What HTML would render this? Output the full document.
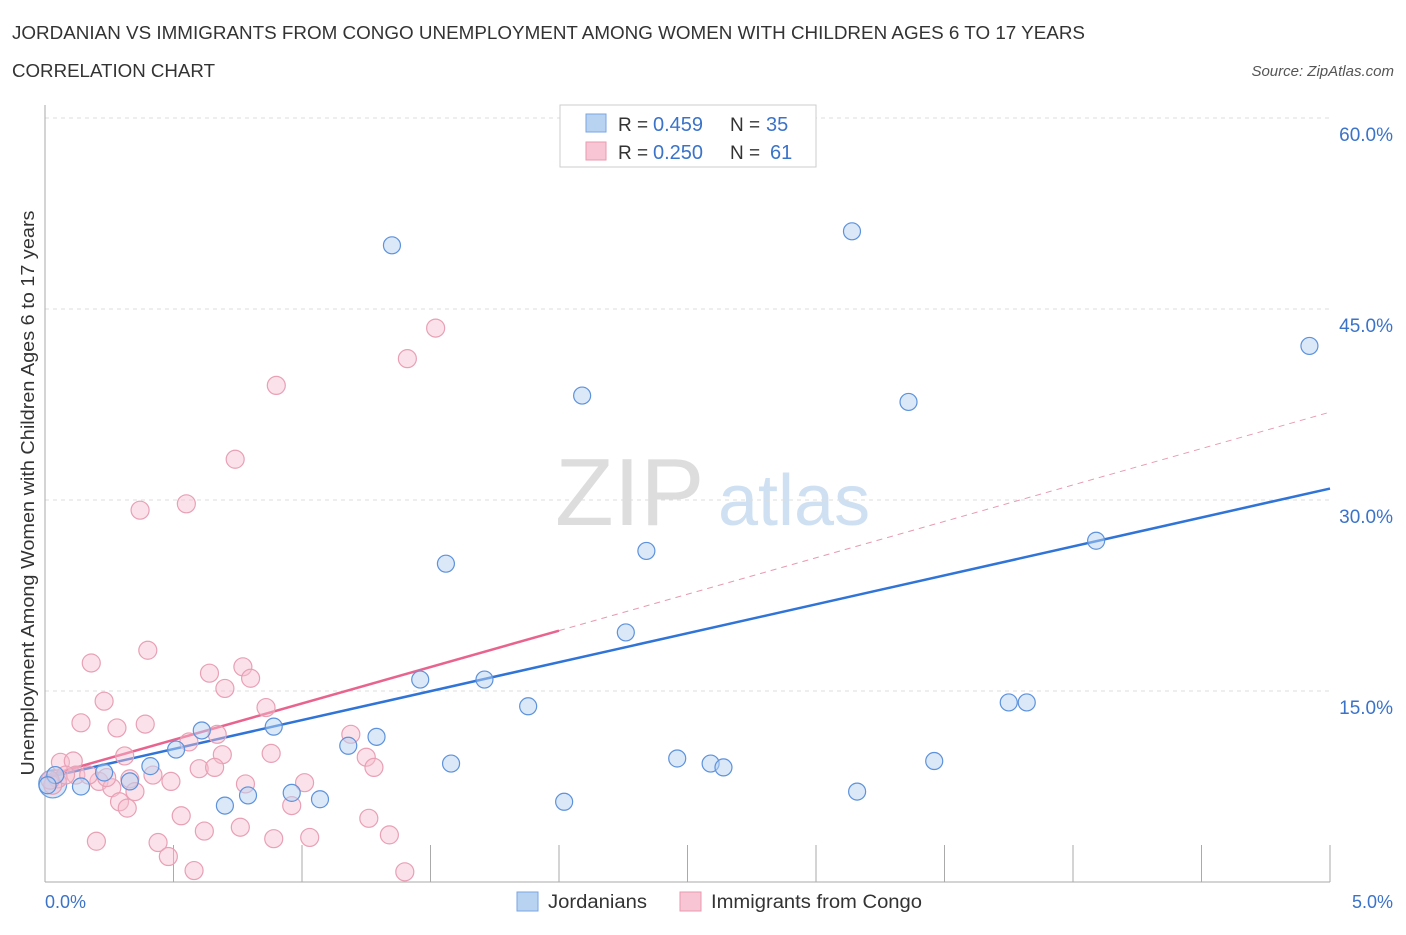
<!DOCTYPE html>
<html><head><meta charset="utf-8"><style>
body{margin:0;background:#fff;font-family:"Liberation Sans",sans-serif;}
svg text{font-family:"Liberation Sans",sans-serif;}
</style></head><body>
<svg id="chart" width="1406" height="930" xmlns="http://www.w3.org/2000/svg">
<text x="12" y="39" font-size="18" fill="#333" textLength="1073" lengthAdjust="spacingAndGlyphs">JORDANIAN VS IMMIGRANTS FROM CONGO UNEMPLOYMENT AMONG WOMEN WITH CHILDREN AGES 6 TO 17 YEARS</text>
<text x="12" y="77" font-size="18" fill="#333" textLength="203" lengthAdjust="spacingAndGlyphs">CORRELATION CHART</text>
<text x="1394" y="76" font-size="15" fill="#555" text-anchor="end" font-style="italic">Source: ZipAtlas.com</text>
<text x="555" y="525" font-size="96" fill="#ddd" font-family="Liberation Serif">ZIP</text>
<text x="718" y="525" font-size="72" fill="#cfe0f3">atlas</text>
<g id="grid"></g><g id="axes"></g><g id="lines"></g><g id="points"></g>
<text transform="translate(34,493) rotate(-90)" font-size="18" fill="#333" text-anchor="middle" textLength="565" lengthAdjust="spacingAndGlyphs">Unemployment Among Women with Children Ages 6 to 17 years</text>
<text x="45" y="908" font-size="18" fill="#3b73c9">0.0%</text>
<text x="1393" y="908" font-size="18" fill="#3b73c9" text-anchor="end">5.0%</text>
<g>
<rect x="560" y="105" width="256" height="62" fill="#fff" stroke="#ccc"/>
<rect x="586" y="114" width="20" height="18" fill="#b8d2f2" stroke="#7aa6e0"/>
<rect x="586" y="142" width="20" height="18" fill="#f7c5d3" stroke="#e89ab0"/>
<text x="618" y="131" font-size="19" fill="#333">R =</text>
<text x="653" y="131" font-size="20" fill="#3b73c9">0.459</text>
<text x="730" y="131" font-size="19" fill="#333">N =</text>
<text x="766" y="131" font-size="20" fill="#3b73c9">35</text>
<text x="618" y="159" font-size="19" fill="#333">R =</text>
<text x="653" y="159" font-size="20" fill="#3b73c9">0.250</text>
<text x="730" y="159" font-size="19" fill="#333">N =</text>
<text x="770" y="159" font-size="20" fill="#3b73c9">61</text>
</g>
<g>
<rect x="517" y="892" width="21" height="19" fill="#b8d2f2" stroke="#7aa6e0"/>
<text x="548" y="908" font-size="19" fill="#333" textLength="99" lengthAdjust="spacingAndGlyphs">Jordanians</text>
<rect x="680" y="892" width="21" height="19" fill="#f7c5d3" stroke="#e89ab0"/>
<text x="711" y="908" font-size="19" fill="#333" textLength="211" lengthAdjust="spacingAndGlyphs">Immigrants from Congo</text>
</g>
</svg>
<script>
const yTicks=[15,30,45,60];
const yTickLabels=["15.0%","30.0%","45.0%","60.0%"];
const blueX=[1.35,3.14,4.92,2.09,3.36,1.56,2.34,4.09,2.26,1.46,1.71,1.88,3.75,3.82,0.89,0.61,1.29,1.18,0.51,0.41,1.58,2.46,2.59,2.64,3.46,0.23,0.33,0.14,0.04,0.01,0.7,0.79,0.96,1.07,2.02,3.16];
const blueY=[50.0,51.1,42.1,38.2,37.7,25.0,26.0,26.8,19.6,15.9,15.9,13.8,14.1,14.1,12.2,11.9,11.4,10.7,10.4,9.1,9.3,9.7,9.3,9.0,9.5,8.6,7.9,7.5,8.4,7.6,6.0,6.8,7.0,6.5,6.3,7.1];
const pinkX=[1.52,1.41,0.9,0.74,0.55,0.37,0.18,0.4,0.64,0.77,0.7,0.8,0.23,0.14,0.28,0.39,0.86,0.56,0.67,0.69,0.88,0.31,0.6,0.66,1.19,1.25,1.28,0.06,0.11,0.12,0.21,0.26,0.33,0.35,0.42,0.49,0.78,1.01,0.05,0.03,0.29,0.32,0.96,0.53,0.62,0.76,0.89,1.03,1.26,1.34,0.2,0.44,0.48,0.58,1.4,0.17,0.08,0.02,0.24];
const pinkY=[43.5,41.1,39.0,33.2,29.7,29.2,17.2,18.2,16.4,16.9,15.2,16.0,14.2,12.5,12.1,12.4,13.7,11.0,11.6,10.0,10.1,9.9,8.9,9.0,11.6,9.8,9.0,9.4,9.5,8.4,7.9,7.4,8.1,7.1,8.4,7.9,7.7,7.8,8.1,7.6,6.3,5.8,6.0,5.2,4.0,4.3,3.4,3.5,5.0,3.7,3.2,3.1,2.0,0.9,0.8,8.4,8.4,8.0,8.2];
const blueTrend=[8.17,30.9];
const pinkTrend=[8.3,36.9];
const pinkSolidEnd=2.0;
const X=v=>45+v/5*1285, Y=v=>882-v/15*191;
const NS="http://www.w3.org/2000/svg";
function mk(p,t,a){const e=document.createElementNS(NS,t);for(const k in a)e.setAttribute(k,a[k]);document.getElementById(p).appendChild(e);return e;}
yTicks.forEach((t,i)=>{
 const g=mk('grid','line',{x1:45,x2:1330,y1:Y(t),y2:Y(t),stroke:'#ddd','stroke-dasharray':'4,4'});
 
 
 const tx=mk('grid','text',{x:1393,y:Y(t)+23,'font-size':19,fill:'#3b73c9','text-anchor':'end'});
 tx.textContent=yTickLabels[i];
 
 
});
const ax=mk('axes','line',{x1:45,x2:45,y1:105,y2:882,stroke:'#aaa'});


const bx=mk('axes','line',{x1:45,x2:1330,y1:882,y2:882,stroke:'#aaa'});


for(let i=1;i<=10;i++){const t=mk('axes','line',{x1:X(i*0.5),x2:X(i*0.5),y1:845,y2:882,stroke:'#aaa'});
 
 }
function pt(x,y,r,fill,stroke,name){const c=mk('points','circle',{cx:X(x),cy:Y(y),r:r,fill:fill,stroke:stroke,'stroke-width':1.2});
 
 }
pt(0.03,7.7,14,'rgba(184,210,242,0.55)','#6a9ee0','jordanian-point');
pinkX.forEach((x,i)=>pt(x,pinkY[i],9,'rgba(247,190,208,0.45)','#e8a0b5','congo-point'));
blueX.forEach((x,i)=>pt(x,blueY[i],8.5,'rgba(184,210,242,0.5)','#5d92dc','jordanian-point'));
const pd=mk('lines','line',{x1:X(pinkSolidEnd),y1:Y(pinkTrend[0]+(pinkTrend[1]-pinkTrend[0])*pinkSolidEnd/5),x2:X(5),y2:Y(pinkTrend[1]),stroke:'#e89ab0','stroke-dasharray':'6,5','stroke-width':1});


const bl=mk('lines','line',{x1:X(0),y1:Y(blueTrend[0]),x2:X(5),y2:Y(blueTrend[1]),stroke:'#2f74d6','stroke-width':2.5});


const pl=mk('lines','line',{x1:X(0),y1:Y(pinkTrend[0]),x2:X(pinkSolidEnd),y2:Y(pinkTrend[0]+(pinkTrend[1]-pinkTrend[0])*pinkSolidEnd/5),stroke:'#e8648e','stroke-width':2.5});


</script>
</body></html>
